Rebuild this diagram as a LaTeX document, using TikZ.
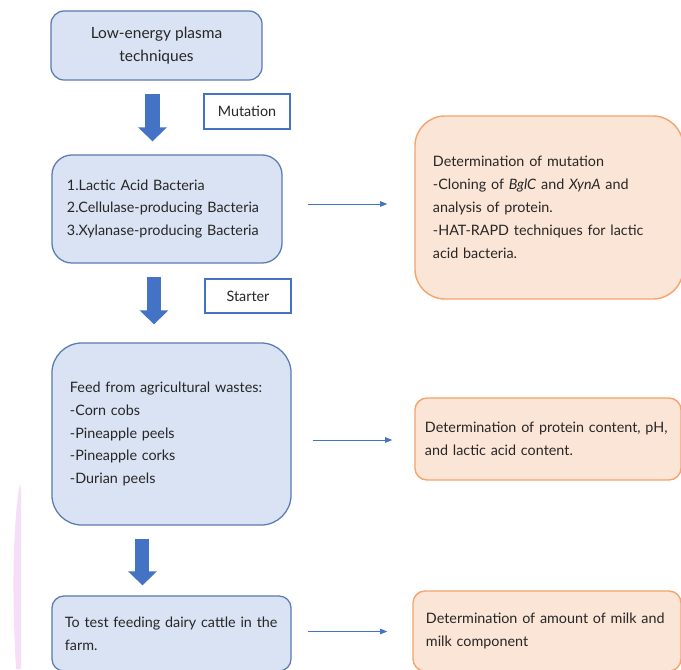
\documentclass[tikz,border=0pt]{standalone}
\usepackage{fontspec}
\setmainfont{Lato}
\usetikzlibrary{arrows.meta}
\definecolor{boxblue}{HTML}{DAE3F3}
\definecolor{edgeblue}{HTML}{5A7AB2}
\definecolor{arrowblue}{HTML}{4472C4}
\definecolor{boxorange}{HTML}{FBE5D6}
\definecolor{edgeorange}{HTML}{F4A46C}
\definecolor{stripe}{HTML}{F6DDF8}
\definecolor{txt}{HTML}{262626}
\tikzset{
  bluebox/.style={draw=edgeblue, fill=boxblue, line width=0.9pt, align=left, inner ysep=0pt},
  orangebox/.style={draw=edgeorange, fill=boxorange, line width=1pt, align=left, inner ysep=0pt},
  tagbox/.style={draw=arrowblue, fill=white, line width=0.8pt, align=center,
    minimum width=2.15cm, inner sep=0pt},
  bigarrow/.style={draw=arrowblue, line width=0.35cm,
    -{Triangle[length=0.35cm, width=0.7cm]}, shorten <=0.325cm},
  link/.style={draw=arrowblue, line width=0.6pt, -{Triangle[length=1.8mm, width=1.4mm]}},
}

\begin{document}
\begin{tikzpicture}[x=0.025cm, y=-0.025cm, font=\fontsize{10.2}{16.3}\selectfont, text=txt]
  \useasboundingbox (0,0) rectangle (681,669);

  % faint stripe on the left
  \fill[stripe] (20,483) .. controls (14,515) and (11,580) .. (16,669) -- (21,669) -- (21,490) -- cycle;

  %%%%% left column %%%%%
  \node[bluebox, rounded corners=0.33cm, align=center, minimum width=5.275cm, minimum height=1.725cm,
    font=\fontsize{11}{16.3}\selectfont]
    (plasma) at (156.5,45.5) {Low-energy plasma\\techniques};
  \node[bluebox, rounded corners=0.5cm, text width=5cm, inner xsep=0.375cm, minimum height=2.7cm]
    (bact) at (167,209) {1.Lactic Acid Bacteria\\2.Cellulase-producing Bacteria\\3.Xylanase-producing Bacteria};
  \node[bluebox, rounded corners=0.75cm, text width=5.075cm, inner xsep=0.45cm, minimum height=4.55cm]
    (feed) at (171.5,434) {Feed from agricultural wastes:\\-Corn cobs\\-Pineapple peels\\-Pineapple corks\\-Durian peels};
  \node[bluebox, rounded corners=0.3cm, text width=5.325cm, inner xsep=0.325cm, minimum height=1.875cm]
    (farm) at (171.5,633.5) {To test feeding dairy cattle in the\\farm.};

  \node[tagbox, minimum height=0.875cm] (mut) at (247,111.5) {Mutation};
  \node[tagbox, minimum height=0.85cm] (start) at (248,296) {Starter};

  %%%%% right column %%%%%
  \node[orangebox, rounded corners=0.75cm, text width=5.8cm, inner xsep=0.45cm, minimum height=4.575cm]
    (mutdet) at (549,207.5) {Determination of mutation\\-Cloning of \emph{BglC} and \emph{XynA} and\\analysis of protein.\\-HAT-RAPD techniques for lactic\\acid bacteria.};
  \node[orangebox, rounded corners=0.3cm, text width=6.15cm, inner xsep=0.25cm, minimum height=2.05cm]
    (feeddet) at (548,439) {Determination of protein content, pH,\\and lactic acid content.};
  \node[orangebox, rounded corners=0.3cm, text width=6.05cm, inner xsep=0.325cm, minimum height=2cm]
    (milkdet) at (547,631) {Determination of amount of milk and\\milk component};

  %%%%% block arrows %%%%%
  \draw[bigarrow, shorten >=0.325cm] ([xshift=-0.1cm]plasma.south) -- ([xshift=-0.1cm]plasma.south |- bact.north);
  \draw[bigarrow, shorten >=0.45cm] ([xshift=-0.325cm]bact.south) -- ([xshift=-0.325cm]bact.south |- feed.north);
  \draw[bigarrow, shorten >=0.25cm] ([xshift=-0.725cm]feed.south) -- ([xshift=-0.725cm]feed.south |- farm.north);

  %%%%% thin arrows %%%%%
  \draw[link, shorten <=0.625cm, shorten >=0.675cm] ([yshift=0.125cm]bact.east) -- ([yshift=0.125cm]bact.east -| mutdet.west);
  \draw[link, shorten <=0.525cm, shorten >=0.55cm] ([yshift=-0.15cm]feed.east) -- ([yshift=-0.15cm]feed.east -| feeddet.west);
  \draw[link, shorten <=0.4cm, shorten >=0.625cm] ([yshift=0.05cm]farm.east) -- ([yshift=0.05cm]farm.east -| milkdet.west);
\end{tikzpicture}
\end{document}
